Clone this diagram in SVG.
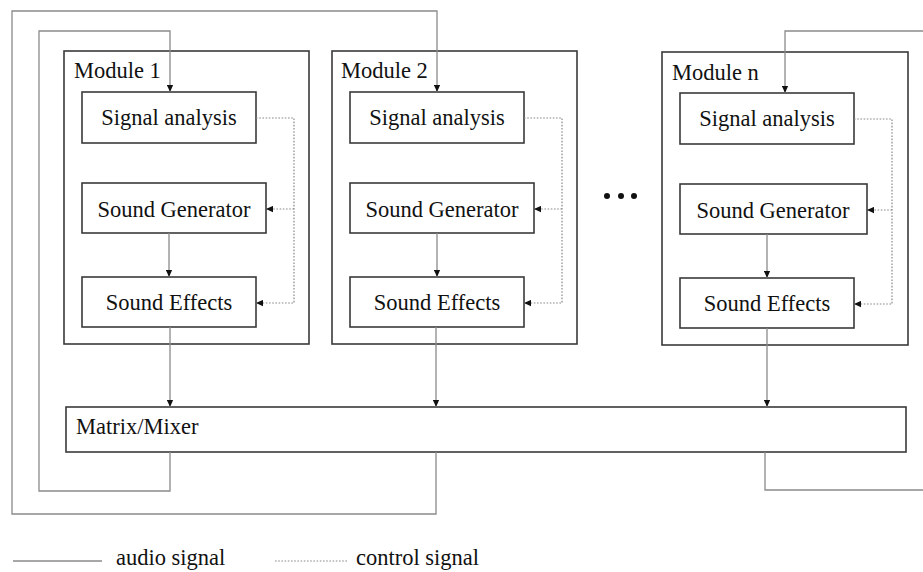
<svg xmlns="http://www.w3.org/2000/svg" width="923" height="572" viewBox="0 0 923 572">
<style>
.mod{fill:none;stroke:#3a3a3a;stroke-width:1.6}
.box{fill:#fff;stroke:#3a3a3a;stroke-width:1.6}
text{font-family:"Liberation Serif","DejaVu Serif",serif;font-size:22.5px;fill:#111}
.tc{text-anchor:middle}
.audio{fill:none;stroke:#8a8a8a;stroke-width:1.3}
.ctrl{fill:none;stroke:#8a8a8a;stroke-width:1.2;stroke-dasharray:1.6 1.6}
</style>
<defs>
<marker id="arr" viewBox="0 0 10 10" refX="10" refY="5" markerWidth="7" markerHeight="7" orient="auto" markerUnits="userSpaceOnUse">
<path d="M0,0.5 L10,5 L0,9.5 z" fill="#111"/>
</marker>
</defs>
<rect width="923" height="572" fill="#fff"/>

<g id="module1">
<rect class="mod" x="64" y="51" width="245" height="293"/>
<text x="74" y="78">Module 1</text>
</g>
<g id="sa1"><rect class="box" x="82" y="92" width="174" height="51"/><text class="tc" x="169" y="125">Signal analysis</text></g>
<g id="sg1"><rect class="box" x="82" y="183" width="184" height="50"/><text class="tc" x="174" y="217">Sound Generator</text></g>
<g id="se1"><rect class="box" x="82" y="277" width="174" height="50"/><text class="tc" x="169" y="310">Sound Effects</text></g>

<g id="module2">
<rect class="mod" x="332" y="51" width="245" height="293"/>
<text x="341" y="78">Module 2</text>
</g>
<g id="sa2"><rect class="box" x="350" y="92" width="174" height="51"/><text class="tc" x="437" y="125">Signal analysis</text></g>
<g id="sg2"><rect class="box" x="350" y="183" width="184" height="50"/><text class="tc" x="442" y="217">Sound Generator</text></g>
<g id="se2"><rect class="box" x="350" y="277" width="174" height="50"/><text class="tc" x="437" y="310">Sound Effects</text></g>

<g id="ellipsis" fill="#111">
<circle cx="607" cy="196" r="3"/><circle cx="621" cy="196" r="3"/><circle cx="634" cy="196" r="3"/>
</g>

<g id="modulen">
<rect class="mod" x="662" y="52" width="246" height="293"/>
<text x="672" y="80">Module n</text>
</g>
<g id="san"><rect class="box" x="680" y="93" width="174" height="51"/><text class="tc" x="767" y="126">Signal analysis</text></g>
<g id="sgn"><rect class="box" x="680" y="184" width="187" height="50"/><text class="tc" x="773" y="218">Sound Generator</text></g>
<g id="sen"><rect class="box" x="680" y="278" width="174" height="50"/><text class="tc" x="767" y="311">Sound Effects</text></g>

<g id="mixer"><rect class="box" x="66" y="407" width="840" height="45"/><text x="76" y="434">Matrix/Mixer</text></g>

<g id="connectors">
<line class="audio" x1="169" y1="233" x2="169" y2="277" marker-end="url(#arr)"/>
<line class="audio" x1="437" y1="233" x2="437" y2="277" marker-end="url(#arr)"/>
<line class="audio" x1="767" y1="234" x2="767" y2="278" marker-end="url(#arr)"/>
<line class="audio" x1="170" y1="327" x2="170" y2="407" marker-end="url(#arr)"/>
<line class="audio" x1="436" y1="327" x2="436" y2="407" marker-end="url(#arr)"/>
<line class="audio" x1="767" y1="328" x2="767" y2="407" marker-end="url(#arr)"/>
<polyline class="audio" points="170,452 170,491 39,491 39,31 170,31 170,92" marker-end="url(#arr)"/>
<polyline class="audio" points="436,452 436,514 12,514 12,11 437,11 437,92" marker-end="url(#arr)"/>
<polyline class="audio" points="765,452 765,490 923,490"/>
<polyline class="audio" points="923,31 785,31 785,93" marker-end="url(#arr)"/>
<polyline class="ctrl" points="256,118 294,118 294,303 256,303" marker-end="url(#arr)"/>
<line class="ctrl" x1="294" y1="209" x2="266" y2="209" marker-end="url(#arr)"/>
<polyline class="ctrl" points="524,118 562,118 562,303 524,303" marker-end="url(#arr)"/>
<line class="ctrl" x1="562" y1="209" x2="534" y2="209" marker-end="url(#arr)"/>
<polyline class="ctrl" points="854,119 892,119 892,304 854,304" marker-end="url(#arr)"/>
<line class="ctrl" x1="892" y1="210" x2="867" y2="210" marker-end="url(#arr)"/>
</g>

<g id="legend">
<line class="audio" x1="13" y1="561" x2="102" y2="561"/>
<text x="116" y="565">audio signal</text>
<line class="ctrl" x1="275" y1="561" x2="348" y2="561"/>
<text x="356" y="565">control signal</text>
</g>
</svg>
